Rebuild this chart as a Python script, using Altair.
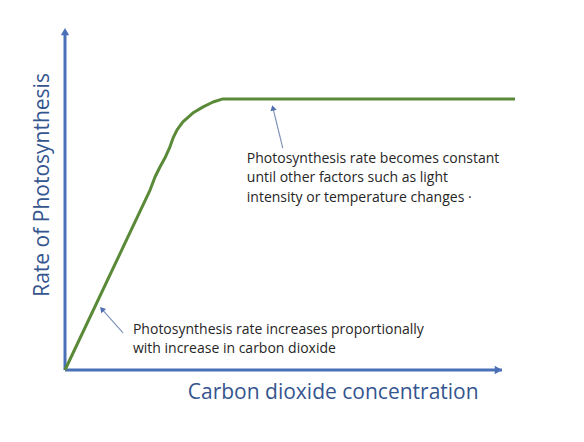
import altair as alt
import pandas as pd

# Curve (abstract units: CO2 concentration 0-100, rate 0-100)
co2 = [0, 18.9, 20.0, 21.1, 22.2, 23.3, 24.0, 24.9, 26.2, 28.4, 30.7, 32.9, 35.1, 38.9, 100]
rate = [0, 52.3, 56.1, 59.0, 61.6, 64.8, 67.4, 69.8, 72.1, 74.7, 76.5, 77.9, 78.8, 78.8, 78.8]

# Axis arrows
axis_x = [0, 0]
axis_y = [0, 0]
axis_x2 = [0, 97.1]
axis_y2 = [98.0, 0]
head_x = [0, 96.3]
head_y = [98.4, 0]
head_shape = ["triangle-up", "triangle-right"]

# Annotation arrows (tail -> tip)
arr_x = [48.4, 12.9]
arr_y = [64.5, 10.8]
arr_x2 = [46.2, 8.2]
arr_y2 = [76.2, 17.7]
arr_angle = [346, 319]

# Annotation texts
note_text = [
    "Photosynthesis rate becomes constant\nuntil other factors such as light\nintensity or temperature changes \u00b7",
    "Photosynthesis rate increases proportionally\nwith increase in carbon dioxide",
]
note_x = [40.4, 15.1]
note_y = [60.2, 10.5]

x_title = "Carbon dioxide concentration"
y_title = "Rate of Photosynthesis"

AXIS_BLUE = "#4a70b8"
GREEN = "#5a8a38"
TITLE_BLUE = "#35558f"

xs = alt.Scale(domain=[0, 100], nice=False, zero=False)
ys = alt.Scale(domain=[0, 100], nice=False, zero=False)

curve_df = pd.DataFrame({"co2": co2, "rate": rate})
axes_df = pd.DataFrame({"x": axis_x, "y": axis_y, "x2": axis_x2, "y2": axis_y2})
heads_df = pd.DataFrame({"x": head_x, "y": head_y, "shape": head_shape})
arr_df = pd.DataFrame({"x": arr_x, "y": arr_y, "x2": arr_x2, "y2": arr_y2, "angle": arr_angle})
notes_df = pd.DataFrame({"text": note_text, "x": note_x, "y": note_y})
xt_df = pd.DataFrame({"text": [x_title], "x": [59.6], "y": [-6.7]})
yt_df = pd.DataFrame({"text": [y_title], "x": [-4.9], "y": [53.8]})

curve = alt.Chart(curve_df).mark_line(color=GREEN, strokeWidth=3, interpolate="linear",
                                      strokeJoin="round", clip=False).encode(
    x=alt.X("co2:Q", scale=xs, axis=None),
    y=alt.Y("rate:Q", scale=ys, axis=None),
)

axes = alt.Chart(axes_df).mark_rule(color=AXIS_BLUE, strokeWidth=3).encode(
    x=alt.X("x:Q", scale=xs, axis=None), y=alt.Y("y:Q", scale=ys, axis=None),
    x2="x2:Q", y2="y2:Q",
)

heads = alt.Chart(heads_df).mark_point(filled=True, color=AXIS_BLUE, size=70, opacity=1).encode(
    x=alt.X("x:Q", scale=xs, axis=None), y=alt.Y("y:Q", scale=ys, axis=None),
    shape=alt.Shape("shape:N", scale=None, legend=None),
)

arrows = alt.Chart(arr_df).mark_rule(color="#7f93b8", strokeWidth=1.2).encode(
    x=alt.X("x:Q", scale=xs, axis=None), y=alt.Y("y:Q", scale=ys, axis=None),
    x2="x2:Q", y2="y2:Q",
)

arrow_heads = alt.Chart(arr_df).mark_point(filled=True, shape="triangle-up", color="#4f6fb0", size=40, opacity=1).encode(
    x=alt.X("x2:Q", scale=xs, axis=None), y=alt.Y("y2:Q", scale=ys, axis=None),
    angle=alt.Angle("angle:Q", scale=None),
)

notes = alt.Chart(notes_df).mark_text(
    align="left", baseline="alphabetic", lineBreak="\n", lineHeight=19.5,
    font="Open Sans", fontSize=14, color="#262626",
).encode(
    x=alt.X("x:Q", scale=xs, axis=None), y=alt.Y("y:Q", scale=ys, axis=None), text="text:N",
)

xt = alt.Chart(xt_df).mark_text(
    align="center", baseline="middle", font="Open Sans", fontSize=21, color=TITLE_BLUE,
).encode(x=alt.X("x:Q", scale=xs, axis=None), y=alt.Y("y:Q", scale=ys, axis=None), text="text:N")

yt = alt.Chart(yt_df).mark_text(
    align="center", baseline="middle", angle=270, font="Open Sans", fontSize=21, color=TITLE_BLUE,
).encode(x=alt.X("x:Q", scale=xs, axis=None), y=alt.Y("y:Q", scale=ys, axis=None), text="text:N")

chart = alt.layer(axes, heads, curve, arrows, arrow_heads, notes, xt, yt).properties(
    width=450, height=344,
    padding={"left": 65, "top": 26, "right": 69, "bottom": 72},
    autosize=alt.AutoSizeParams(type="none"),
    background="white",
).configure_view(stroke=None)

chart.save("out.html", embed_options={"renderer": "svg", "actions": False})
